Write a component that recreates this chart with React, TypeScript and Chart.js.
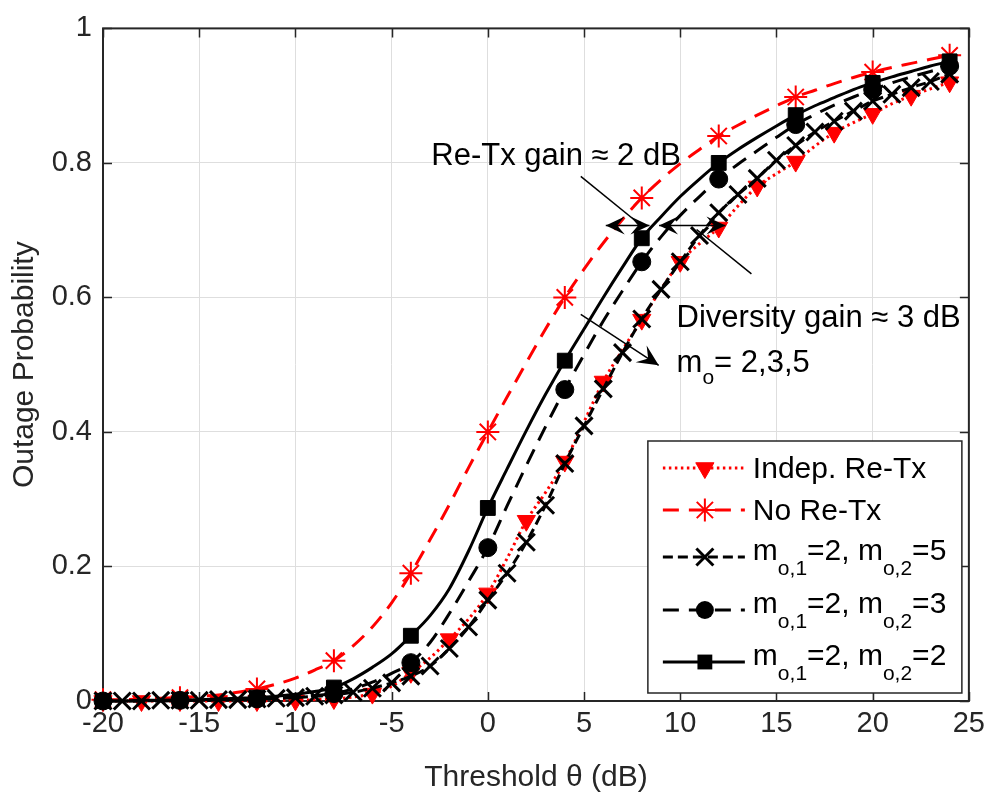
import React, { useEffect, useRef } from 'react';
import { Chart, registerables } from 'chart.js';

Chart.register(...registerables);

// ---------------- data ----------------
const thetaDb = [
  -20, -19, -18, -17, -16, -15, -14, -13, -12, -11, -10, -9, -8, -7, -6, -5, -4, -3, -2, -1,
  0, 1, 2, 3, 4, 5, 6, 7, 8, 9, 10, 11, 12, 13, 14, 15, 16, 17, 18, 19, 20, 21, 22, 23, 24,
];

const indepReTx = [
  0, 0, 0, 0, 0, 0, 0, 0, 0, 0.001, 0.001, 0.002, 0.003, 0.006, 0.011, 0.022, 0.042, 0.064, 0.092, 0.122,
  0.16, 0.212, 0.268, 0.31, 0.356, 0.415, 0.475, 0.522, 0.567, 0.612, 0.653, 0.68, 0.704, 0.736, 0.765,
  0.784, 0.802, 0.825, 0.845, 0.86, 0.873, 0.888, 0.9, 0.91, 0.92,
];

const noReTx = [
  0.002, 0.002, 0.003, 0.004, 0.005, 0.007, 0.009, 0.013, 0.018, 0.025, 0.034, 0.046, 0.06, 0.082, 0.11,
  0.146, 0.19, 0.24, 0.292, 0.347, 0.4, 0.452, 0.503, 0.553, 0.6, 0.642, 0.681, 0.716, 0.748, 0.775, 0.799,
  0.82, 0.84, 0.856, 0.871, 0.885, 0.898, 0.908, 0.918, 0.927, 0.935, 0.942, 0.948, 0.954, 0.96,
];

const mo1_2_mo2_5 = [
  0, 0, 0, 0.001, 0.001, 0.001, 0.002, 0.002, 0.003, 0.004, 0.005, 0.007, 0.009, 0.013, 0.019, 0.027,
  0.037, 0.052, 0.078, 0.11, 0.15, 0.19, 0.236, 0.291, 0.353, 0.409, 0.464, 0.518, 0.568, 0.612, 0.653,
  0.692, 0.726, 0.753, 0.777, 0.804, 0.826, 0.846, 0.862, 0.877, 0.892, 0.902, 0.912, 0.921, 0.932,
];

const mo1_2_mo2_3 = [
  0, 0, 0, 0, 0.001, 0.001, 0.002, 0.003, 0.003, 0.004, 0.006, 0.008, 0.011, 0.018, 0.028, 0.041, 0.057,
  0.087, 0.13, 0.178, 0.228, 0.29, 0.35, 0.408, 0.463, 0.515, 0.565, 0.61, 0.653, 0.69, 0.722, 0.75, 0.776,
  0.798, 0.818, 0.838, 0.857, 0.872, 0.886, 0.898, 0.909, 0.919, 0.928, 0.936, 0.944,
];

const mo1_2_mo2_2 = [
  0, 0, 0.001, 0.001, 0.001, 0.002, 0.003, 0.004, 0.005, 0.007, 0.01, 0.014, 0.02, 0.033, 0.05, 0.07,
  0.097, 0.127, 0.167, 0.223, 0.287, 0.345, 0.402, 0.456, 0.506, 0.553, 0.6, 0.645, 0.688, 0.72, 0.75,
  0.776, 0.8, 0.82, 0.838, 0.855, 0.871, 0.885, 0.897, 0.909, 0.919, 0.928, 0.936, 0.944, 0.951,
];

const xTicks = [-20, -15, -10, -5, 0, 5, 10, 15, 20, 25];
const yTicks = [0, 0.2, 0.4, 0.6, 0.8, 1];

// legend label segments (sub = subscript)
const legendIndep = [{ t: 'Indep. Re-Tx' }];
const legendNo = [{ t: 'No Re-Tx' }];
const legendM25 = [{ t: 'm' }, { t: 'o,1', sub: true }, { t: '=2, m' }, { t: 'o,2', sub: true }, { t: '=5' }];
const legendM23 = [{ t: 'm' }, { t: 'o,1', sub: true }, { t: '=2, m' }, { t: 'o,2', sub: true }, { t: '=3' }];
const legendM22 = [{ t: 'm' }, { t: 'o,1', sub: true }, { t: '=2, m' }, { t: 'o,2', sub: true }, { t: '=2' }];

const FONT = '"Liberation Sans", Arial, Helvetica, sans-serif';
const AX = '#262626';

type Seg = { t: string; sub?: boolean };
const plainText = (segs: Seg[]) => segs.map((s) => s.t).join('');

const series = [
  { segs: legendIndep, values: indepReTx, color: '#ff0000', dash: [2.5, 3.5], step: 2, marker: 'triangle', radius: 10.5, filled: true, pbw: 1 },
  { segs: legendNo, values: noReTx, color: '#ff0000', dash: [16, 10], step: 4, marker: 'star', radius: 11.5, filled: false, pbw: 2 },
  { segs: legendM25, values: mo1_2_mo2_5, color: '#000000', dash: [10, 5], step: 1, marker: 'crossRot', radius: 12, filled: false, pbw: 3 },
  { segs: legendM23, values: mo1_2_mo2_3, color: '#000000', dash: [16, 10], step: 4, marker: 'circle', radius: 9, filled: true, pbw: 1 },
  { segs: legendM22, values: mo1_2_mo2_2, color: '#000000', dash: [], step: 4, marker: 'rect', radius: 10.5, filled: true, pbw: 1 },
];

function drawMarker(ctx: CanvasRenderingContext2D, kind: string, x: number, y: number, r: number, color: string, lw: number) {
  ctx.save();
  ctx.setLineDash([]);
  ctx.fillStyle = color;
  ctx.strokeStyle = color;
  ctx.lineWidth = lw;
  ctx.beginPath();
  if (kind === 'triangle') {
    const s = Math.sin(Math.PI / 3) * r;
    ctx.moveTo(x, y + r);
    ctx.lineTo(x - s, y - r / 2);
    ctx.lineTo(x + s, y - r / 2);
    ctx.closePath();
    ctx.fill();
    ctx.stroke();
  } else if (kind === 'star') {
    const d = r * Math.SQRT1_2;
    ctx.moveTo(x, y - r); ctx.lineTo(x, y + r);
    ctx.moveTo(x - r, y); ctx.lineTo(x + r, y);
    ctx.moveTo(x - d, y - d); ctx.lineTo(x + d, y + d);
    ctx.moveTo(x - d, y + d); ctx.lineTo(x + d, y - d);
    ctx.stroke();
  } else if (kind === 'crossRot') {
    const d = r * Math.SQRT1_2;
    ctx.moveTo(x - d, y - d); ctx.lineTo(x + d, y + d);
    ctx.moveTo(x - d, y + d); ctx.lineTo(x + d, y - d);
    ctx.stroke();
  } else if (kind === 'circle') {
    ctx.arc(x, y, r, 0, Math.PI * 2);
    ctx.fill();
  } else if (kind === 'rect') {
    const s = r * Math.SQRT1_2;
    ctx.rect(x - s, y - s, 2 * s, 2 * s);
    ctx.fill();
  }
  ctx.restore();
}

function drawRich(ctx: CanvasRenderingContext2D, segs: Seg[], x: number, baseline: number, size: number, subSize: number, subDrop: number) {
  let cx = x;
  ctx.textAlign = 'left';
  ctx.textBaseline = 'alphabetic';
  for (const s of segs) {
    ctx.font = `${s.sub ? subSize : size}px ${FONT}`;
    ctx.fillText(s.t, cx, baseline + (s.sub ? subDrop : 0));
    cx += ctx.measureText(s.t).width;
  }
}

function arrowHead(ctx: CanvasRenderingContext2D, tipX: number, tipY: number, angle: number, len = 19, wid = 18) {
  const bx = Math.cos(angle), by = Math.sin(angle);
  const px = -by, py = bx;
  const baseX = tipX - bx * len, baseY = tipY - by * len;
  const nX = tipX - bx * len * 0.6, nY = tipY - by * len * 0.6;
  ctx.beginPath();
  ctx.moveTo(tipX, tipY);
  ctx.lineTo(baseX + (px * wid) / 2, baseY + (py * wid) / 2);
  ctx.lineTo(nX, nY);
  ctx.lineTo(baseX - (px * wid) / 2, baseY - (py * wid) / 2);
  ctx.closePath();
  ctx.fill();
}

// annotation anchors, in data units (theta dB, probability)
const reTxText = { x: -2.94, y: 0.7965, text: 'Re-Tx gain \u2248 2 dB' };
const divText = { x: 9.81, y: 0.5564, text: 'Diversity gain \u2248 3 dB' };
const moText = { x: 9.81, y: 0.489, segs: [{ t: 'm' }, { t: 'o', sub: true }, { t: '= 2,3,5' }] as Seg[] };
const reTxPointer = [[4.83, 0.78], [8.1, 0.704]];
const divPointer = [[10.85, 0.701], [13.7, 0.635]];
const gainArrowA = [[6.13, 0.707], [8.4, 0.707]];
const gainArrowB = [[8.9, 0.707], [12.35, 0.707]];
const moArrow = [[4.83, 0.575], [8.88, 0.499]];

const framePlugin = {
  id: 'framePlugin',
  beforeDatasetsDraw(chart: any) {
    const { ctx, chartArea: a } = chart;
    const xs = chart.scales.x, ys = chart.scales.y;
    ctx.save();
    ctx.strokeStyle = AX;
    ctx.lineWidth = 1.5;
    ctx.setLineDash([]);
    const tl = 9;
    ctx.beginPath();
    for (const v of xTicks) {
      const p = Math.round(xs.getPixelForValue(v)) + 0.5;
      ctx.moveTo(p, a.bottom); ctx.lineTo(p, a.bottom - tl);
      ctx.moveTo(p, a.top); ctx.lineTo(p, a.top + tl);
    }
    for (const v of yTicks) {
      const p = Math.round(ys.getPixelForValue(v)) + 0.5;
      ctx.moveTo(a.left, p); ctx.lineTo(a.left + tl, p);
      ctx.moveTo(a.right, p); ctx.lineTo(a.right - tl, p);
    }
    ctx.stroke();
    ctx.lineWidth = 2;
    ctx.strokeRect(a.left, a.top, a.right - a.left, a.bottom - a.top);
    ctx.restore();
  },
  afterDraw(chart: any) {
    const { ctx, chartArea: a } = chart;
    const xs = chart.scales.x, ys = chart.scales.y;
    const px = (v: number) => xs.getPixelForValue(v);
    const py = (v: number) => ys.getPixelForValue(v);
    ctx.save();
    ctx.fillStyle = '#000';
    ctx.strokeStyle = '#000';
    ctx.setLineDash([]);

    // annotation texts
    ctx.font = `31px ${FONT}`;
    ctx.textAlign = 'left';
    ctx.textBaseline = 'alphabetic';
    ctx.fillText(reTxText.text, px(reTxText.x), py(reTxText.y));
    ctx.fillText(divText.text, px(divText.x), py(divText.y));
    drawRich(ctx, moText.segs, px(moText.x), py(moText.y), 31, 21, 12);

    // pointer lines
    ctx.lineWidth = 1.5;
    for (const seg of [reTxPointer, divPointer]) {
      ctx.beginPath();
      ctx.moveTo(px(seg[0][0]), py(seg[0][1]));
      ctx.lineTo(px(seg[1][0]), py(seg[1][1]));
      ctx.stroke();
    }
    // double arrows
    for (const seg of [gainArrowA, gainArrowB]) {
      const x1 = px(seg[0][0]), y1 = py(seg[0][1]), x2 = px(seg[1][0]), y2 = py(seg[1][1]);
      ctx.beginPath();
      ctx.moveTo(x1, y1); ctx.lineTo(x2, y2);
      ctx.stroke();
      const ang = Math.atan2(y2 - y1, x2 - x1);
      arrowHead(ctx, x2, y2, ang);
      arrowHead(ctx, x1, y1, ang + Math.PI);
    }
    // single arrow
    {
      const x1 = px(moArrow[0][0]), y1 = py(moArrow[0][1]), x2 = px(moArrow[1][0]), y2 = py(moArrow[1][1]);
      ctx.beginPath();
      ctx.moveTo(x1, y1); ctx.lineTo(x2, y2);
      ctx.stroke();
      arrowHead(ctx, x2, y2, Math.atan2(y2 - y1, x2 - x1), 21, 20);
    }

    // legend
    const w = 314, h = 252;
    const L = a.right - 7 - w, T = a.bottom - 8 - h;
    ctx.fillStyle = '#fff';
    ctx.fillRect(L, T, w, h);
    ctx.strokeStyle = AX;
    ctx.lineWidth = 1.5;
    ctx.strokeRect(L, T, w, h);
    const rowY = [27, 69, 116, 169, 221];
    const textDrop = [10, 10, 3, 3, 3];
    series.forEach((s, i) => {
      const y = T + rowY[i];
      ctx.save();
      ctx.strokeStyle = s.color;
      ctx.lineWidth = 3;
      ctx.setLineDash(s.dash);
      ctx.beginPath();
      ctx.moveTo(L + 15, y);
      ctx.lineTo(L + 97, y);
      ctx.stroke();
      ctx.restore();
      drawMarker(ctx, s.marker, L + 57, y, s.radius, s.color, s.pbw);
      ctx.fillStyle = '#000';
      drawRich(ctx, s.segs as Seg[], L + 105, y + textDrop[i], 30, 21, 15);
    });
    ctx.restore();
  },
};

export default function App() {
  const ref = useRef<HTMLCanvasElement>(null);
  useEffect(() => {
    const canvas = ref.current!;
    const datasets = series.map((s, i) => ({
      label: plainText(s.segs as Seg[]),
      data: thetaDb.map((t, k) => ({ x: t, y: s.values[k] })),
      borderColor: s.color,
      borderWidth: 3,
      borderDash: s.dash,
      borderCapStyle: 'butt',
      cubicInterpolationMode: 'monotone',
      fill: false,
      clip: false,
      order: series.length - i,
      pointStyle: s.marker,
      pointRotation: s.marker === 'triangle' ? 180 : 0,
      pointRadius: (c: any) => (c.dataIndex % s.step === 0 ? s.radius : 0),
      pointHoverRadius: (c: any) => (c.dataIndex % s.step === 0 ? s.radius : 0),
      pointBackgroundColor: s.filled ? s.color : 'rgba(0,0,0,0)',
      pointBorderColor: s.color,
      pointBorderWidth: s.pbw,
    }));
    const chart = new Chart(canvas, {
      type: 'line',
      data: { datasets } as any,
      options: {
        responsive: false,
        animation: false,
        devicePixelRatio: 1,
        events: [],
        layout: { padding: { top: 18, right: 20, left: 0, bottom: 0 } },
        plugins: { legend: { display: false }, tooltip: { enabled: false } },
        scales: {
          x: {
            type: 'linear',
            min: -20,
            max: 25,
            afterBuildTicks: (sc: any) => { sc.ticks = xTicks.map((v) => ({ value: v })); },
            afterFit: (sc: any) => { sc.height = 92; },
            grid: { color: '#dedede', lineWidth: 1, drawTicks: false },
            border: { display: false },
            ticks: {
              autoSkip: false,
              maxRotation: 0,
              padding: 6,
              color: AX,
              font: { family: FONT, size: 29 },
              callback: (v: any) => String(v),
            },
            title: {
              display: true,
              text: 'Threshold \u03B8 (dB)',
              color: AX,
              font: { family: FONT, size: 30, lineHeight: 1 },
              padding: { top: 0, bottom: 0 },
            },
          },
          y: {
            type: 'linear',
            min: 0,
            max: 1,
            afterBuildTicks: (sc: any) => { sc.ticks = yTicks.map((v) => ({ value: v })); },
            afterFit: (sc: any) => { sc.width = 103; },
            grid: { color: '#dedede', lineWidth: 1, drawTicks: false },
            border: { display: false },
            ticks: {
              autoSkip: false,
              padding: 11,
              color: AX,
              font: { family: FONT, size: 29 },
              callback: (v: any) => String(Math.round(Number(v) * 10) / 10),
            },
            title: {
              display: true,
              text: 'Outage Probability',
              color: AX,
              font: { family: FONT, size: 30, lineHeight: 1 },
              padding: { top: 10, bottom: 0 },
            },
          },
        },
      } as any,
      plugins: [framePlugin],
    });
    return () => chart.destroy();
  }, []);
  return (
    <div style={{ position: 'fixed', left: 0, top: 0, width: 991, height: 793, background: '#ffffff' }}>
      <canvas ref={ref} width={991} height={793} style={{ display: 'block', width: 991, height: 793 }} />
    </div>
  );
}
